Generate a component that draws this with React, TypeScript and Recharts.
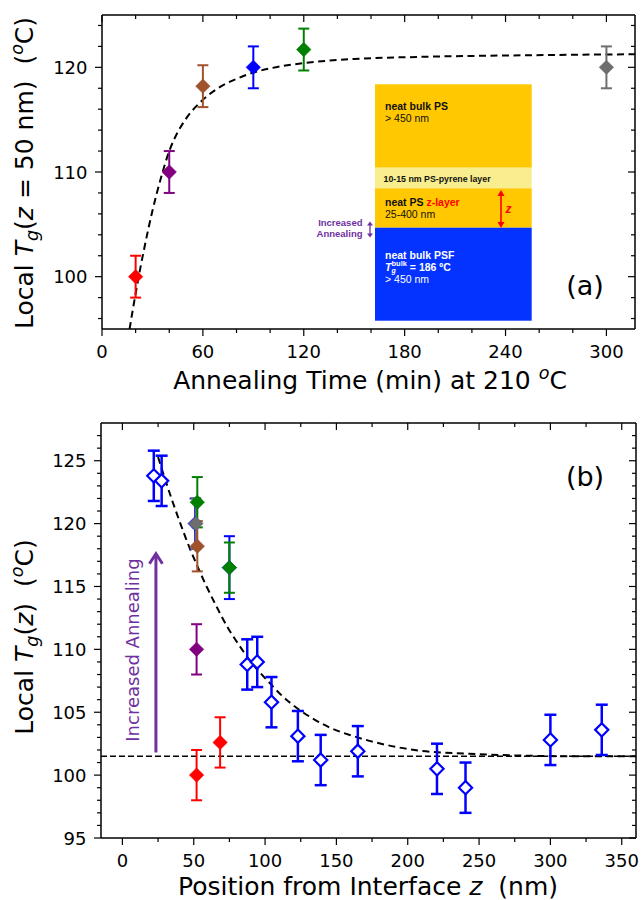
import React from 'react';
import { ComposedChart, Scatter, Line, XAxis, YAxis, ErrorBar, ReferenceLine } from 'recharts';

const FONT = '"DejaVu Sans", sans-serif';
const SANS = '"Liberation Sans", Arial, sans-serif';
const PURPLE = '#7030a0';

// ---------- Panel (a): Tg(z = 50 nm) vs annealing time ----------
const annealTimes = [20, 40, 60, 90, 120, 300];
const tgAt50 = [100, 110, 118.2, 120, 121.7, 120];
const tgAt50Err = [2, 2, 2, 2, 2, 2];
const annealColors = ['#ff0000', '#800080', '#a0522d', '#0000ff', '#008000', '#6e6e6e'];

const fitTimes = [16.4, 20, 25, 30, 35, 40, 45, 50, 60, 70, 80, 90, 100, 120, 150, 190, 250, 317];
const fitTgA = [95, 98.4, 102.6, 106.3, 109.4, 112.0, 113.8, 115.1, 116.9, 118.1, 118.9, 119.5, 119.9, 120.4, 120.8, 121.0, 121.15, 121.25];

const aXTicks = [0, 20, 40, 60, 80, 100, 120, 140, 160, 180, 200, 220, 240, 260, 280, 300];
const aXMajor = [0, 60, 120, 180, 240, 300];
const aYTicks = [96, 98, 100, 102, 104, 106, 108, 110, 112, 114, 116, 118, 120, 122, 124];
const aYMajor = [100, 110, 120];

// ---------- Panel (b): Tg profile vs distance from interface ----------
const profileZ = [22, 27.5, 87.5, 94.5, 104.5, 123, 139, 165, 220.5, 240.5, 300, 336];
const profileTg = [123.8, 123.4, 108.8, 109.0, 105.8, 103.1, 101.2, 101.9, 100.5, 99.0, 102.8, 103.6];
const profileErr = [2, 2, 2, 2, 2, 2, 2, 2, 2, 2, 2, 2];

const redZ = [52, 68.5];
const redTg = [100, 102.6];
const purpleZ = [52];
const purpleTg = [110];
const blueZ = [51, 75];
const blueTg = [120, 116.5];
const blueErr = [2, 2.5];
const grayZ = [51.5];
const grayTg = [120];
const brownZ = [52.5];
const brownTg = [118.2];
const greenZ = [52.5, 75];
const greenTg = [121.7, 116.5];

const fitZ = [25, 30, 35, 40, 47, 53, 59, 66, 74, 82, 90, 101, 112, 124, 135, 145, 162, 185, 208, 243, 280, 320, 360];
const fitTgB = [125.3, 123.5, 121.8, 120.2, 118.1, 116.5, 115.0, 113.4, 111.7, 110.3, 109.0, 107.6, 106.3, 105.2, 104.4, 103.8, 103.1, 102.4, 101.95, 101.7, 101.55, 101.5, 101.5];
const bulkTg = 101.5;

const bXTicks = [0, 25, 50, 75, 100, 125, 150, 175, 200, 225, 250, 275, 300, 325, 350];
const bXMajor = [0, 50, 100, 150, 200, 250, 300, 350];
const bYTicks = Array.from({ length: 33 }, (_, i) => 95 + i);
const bYMajor = [95, 100, 105, 110, 115, 120, 125];

type Pt = { x: number; y: number; e?: number };
const pts = (xs: number[], ys: number[], es?: number[]): Pt[] =>
  xs.map((x, i) => ({ x, y: ys[i], e: es ? es[i] : 2 }));

// ---------- chart geometry ----------
const GA = { top: 0, w: 641, h: 380, mt: 15, mr: 6, yw: 102, xh: 51, xd: [0, 317], yd: [95, 125] };
const GB = { top: 400, w: 641, h: 500, mt: 23, mr: 5, yw: 101, xh: 62, xd: [-15, 360], yd: [95, 128] };
const plotW = (g: typeof GA) => g.w - g.mr - g.yw;
const plotH = (g: typeof GA) => g.h - g.mt - g.xh;
const px = (g: typeof GA, v: number) => g.yw + ((v - g.xd[0]) / (g.xd[1] - g.xd[0])) * plotW(g);
const py = (g: typeof GA, v: number) => g.top + g.mt + ((g.yd[1] - v) / (g.yd[1] - g.yd[0])) * plotH(g);

const diamond = (color: string, open = false) => (props: any) => {
  const { cx, cy } = props;
  if (cx == null || cy == null) return <g />;
  const r = open ? 6.6 : 7.2;
  return (
    <polygon
      points={`${cx},${cy - r} ${cx + r},${cy} ${cx},${cy + r} ${cx - r},${cy}`}
      fill={open ? '#ffffff' : color}
      stroke={color}
      strokeWidth={open ? 2.2 : 0.6}
    />
  );
};

const makeYTick = (majors: number[], w: number) => (props: any) => {
  const { x, y, payload } = props;
  const v = payload.value;
  const major = majors.includes(v);
  const len = major ? 7 : 4;
  return (
    <g>
      <line x1={x - len} y1={y} x2={x} y2={y} stroke="#000" strokeWidth={1.2} />
      <line x1={x + w - len} y1={y} x2={x + w} y2={y} stroke="#000" strokeWidth={1.2} />
      {major && (
        <text x={x - 14.5} y={y} textAnchor="end" dominantBaseline="central" fontSize={18} fontFamily={FONT} fill="#000">
          {v}
        </text>
      )}
    </g>
  );
};

const makeXTick = (majors: number[], h: number) => (props: any) => {
  const { x, y, payload } = props;
  const v = payload.value;
  const major = majors.includes(v);
  const len = major ? 7 : 4;
  return (
    <g>
      <line x1={x} y1={y} x2={x} y2={y + len} stroke="#000" strokeWidth={1.2} />
      <line x1={x} y1={y - h} x2={x} y2={y - h + len} stroke="#000" strokeWidth={1.2} />
      {major && (
        <text x={x} y={y + 22.5} textAnchor="middle" dominantBaseline="central" fontSize={18} fontFamily={FONT} fill="#000">
          {v}
        </text>
      )}
    </g>
  );
};

const PanelA = () => (
  <ComposedChart width={GA.w} height={GA.h} margin={{ top: GA.mt, right: GA.mr, bottom: 0, left: 0 }}>
    <XAxis
      dataKey="x"
      type="number"
      domain={GA.xd}
      allowDataOverflow
      ticks={aXTicks}
      interval={0}
      height={GA.xh}
      tickSize={0}
      tickMargin={0}
      tickLine={false}
      axisLine={{ stroke: '#000', strokeWidth: 1.5 }}
      tick={makeXTick(aXMajor, plotH(GA))}
    />
    <YAxis
      dataKey="y"
      type="number"
      domain={GA.yd}
      allowDataOverflow
      ticks={aYTicks}
      interval={0}
      width={GA.yw}
      tickSize={0}
      tickMargin={0}
      tickLine={false}
      axisLine={{ stroke: '#000', strokeWidth: 1.5 }}
      tick={makeYTick(aYMajor, plotW(GA))}
    />
    <ReferenceLine y={GA.yd[1]} stroke="#000" strokeWidth={1.5} />
    <ReferenceLine x={GA.xd[1]} stroke="#000" strokeWidth={1.5} />
    <Line
      data={pts(fitTimes, fitTgA)}
      dataKey="y"
      type="monotone"
      dot={false}
      stroke="#000"
      strokeWidth={2}
      strokeDasharray="7 4.5"
      isAnimationActive={false}
    />
    {annealTimes.map((t, i) => (
      <Scatter
        key={t}
        data={pts([t], [tgAt50[i]], [tgAt50Err[i]])}
        dataKey="y"
        shape={diamond(annealColors[i])}
        isAnimationActive={false}
      >
        <ErrorBar dataKey="e" direction="y" width={5.5} strokeWidth={2} stroke={annealColors[i]} />
      </Scatter>
    ))}
  </ComposedChart>
);

const filledSeries: { xs: number[]; ys: number[]; es?: number[]; color: string }[] = [
  { xs: redZ, ys: redTg, color: '#ff0000' },
  { xs: purpleZ, ys: purpleTg, color: '#800080' },
  { xs: blueZ, ys: blueTg, es: blueErr, color: '#0000ff' },
  { xs: grayZ, ys: grayTg, color: '#6e6e6e' },
  { xs: brownZ, ys: brownTg, color: '#a0522d' },
  { xs: greenZ, ys: greenTg, color: '#008000' },
];

const PanelB = () => (
  <ComposedChart width={GB.w} height={GB.h} margin={{ top: GB.mt, right: GB.mr, bottom: 0, left: 0 }}>
    <XAxis
      dataKey="x"
      type="number"
      domain={GB.xd}
      allowDataOverflow
      ticks={bXTicks}
      interval={0}
      height={GB.xh}
      tickSize={0}
      tickMargin={0}
      tickLine={false}
      axisLine={{ stroke: '#000', strokeWidth: 1.5 }}
      tick={makeXTick(bXMajor, plotH(GB))}
    />
    <YAxis
      dataKey="y"
      type="number"
      domain={GB.yd}
      allowDataOverflow
      ticks={bYTicks}
      interval={0}
      width={GB.yw}
      tickSize={0}
      tickMargin={0}
      tickLine={false}
      axisLine={{ stroke: '#000', strokeWidth: 1.5 }}
      tick={makeYTick(bYMajor, plotW(GB))}
    />
    <ReferenceLine y={GB.yd[1]} stroke="#000" strokeWidth={1.5} />
    <ReferenceLine x={GB.xd[1]} stroke="#000" strokeWidth={1.5} />
    <ReferenceLine y={bulkTg} stroke="#000" strokeWidth={1.5} strokeDasharray="6 3" />
    <Line
      data={pts(fitZ, fitTgB)}
      dataKey="y"
      type="monotone"
      dot={false}
      stroke="#000"
      strokeWidth={2}
      strokeDasharray="7 4.5"
      isAnimationActive={false}
    />
    <Scatter data={pts(profileZ, profileTg, profileErr)} dataKey="y" shape={diamond('#0000ff', true)} isAnimationActive={false}>
      <ErrorBar dataKey="e" direction="y" width={6} strokeWidth={2.5} stroke="#0000ff" />
    </Scatter>
    {filledSeries.map((s, i) => (
      <Scatter key={i} data={pts(s.xs, s.ys, s.es)} dataKey="y" shape={diamond(s.color)} isAnimationActive={false}>
        <ErrorBar dataKey="e" direction="y" width={5.5} strokeWidth={2} stroke={s.color} />
      </Scatter>
    ))}
  </ComposedChart>
);

const DoubleArrow = ({ x, y1, y2, color, head, hw, sw }: any) => (
  <g>
    <line x1={x} y1={y1 + head - 1} x2={x} y2={y2 - head + 1} stroke={color} strokeWidth={sw} />
    <polygon points={`${x},${y1} ${x - hw},${y1 + head} ${x + hw},${y1 + head}`} fill={color} />
    <polygon points={`${x},${y2} ${x - hw},${y2 - head} ${x + hw},${y2 - head}`} fill={color} />
  </g>
);

const Overlay = () => {
  const arrowX = px(GB, 23.5);
  const arrowY0 = py(GB, 101.8);
  const arrowY1 = py(GB, 117.6);
  return (
    <svg width={641} height={900} style={{ position: 'absolute', left: 0, top: 0, pointerEvents: 'none' }}>
      {/* layer-stack sketch */}
      <g fontFamily={SANS}>
        <rect x={375} y={84.3} width={156.7} height={83.4} fill="#ffc800" />
        <rect x={375} y={167.7} width={156.7} height={20.6} fill="#f8ee8e" />
        <rect x={375} y={188.3} width={156.7} height={39.4} fill="#ffc800" />
        <rect x={375} y={227.7} width={156.7} height={93} fill="#0433ff" />
        <text x={385} y={110} fontSize={10.5} fontWeight="bold" fill="#111">neat bulk PS</text>
        <text x={385} y={122} fontSize={10.5} fill="#111">{'> 450 nm'}</text>
        <text x={383.5} y={181.5} fontSize={8.8} fontWeight="bold" fill="#111">10-15 nm PS-pyrene layer</text>
        <text x={385} y={206} fontSize={10.5} fontWeight="bold" fill="#111">
          {'neat PS '}
          <tspan fill="#ff0000">z-layer</tspan>
        </text>
        <text x={385} y={218} fontSize={10.5} fill="#111">25-400 nm</text>
        <DoubleArrow x={501} y1={190} y2={228} color="#ff0000" head={6} hw={3.5} sw={1.6} />
        <text x={505.5} y={212.5} fontSize={12} fontWeight="bold" fontStyle="italic" fill="#ff0000">z</text>
        <text x={385} y={258.5} fontSize={10.5} fontWeight="bold" fill="#ffffff">neat bulk PSF</text>
        <text x={385} y={270.5} fontSize={10.5} fontWeight="bold" fill="#ffffff">
          <tspan fontStyle="italic">T</tspan>
          <tspan fontSize={7} dy={2.5} fontStyle="italic">g</tspan>
          <tspan fontSize={7.5} dy={-7} dx={-4.2}>bulk</tspan>
          <tspan dy={4.5}>{' = 186 ºC'}</tspan>
        </text>
        <text x={385} y={282.5} fontSize={10.5} fill="#ffffff">{'> 450 nm'}</text>
        <text x={362.5} y={226} fontSize={9.5} fontWeight="bold" fill={PURPLE} textAnchor="end">Increased</text>
        <text x={362.5} y={237} fontSize={9.5} fontWeight="bold" fill={PURPLE} textAnchor="end">Annealing</text>
        <DoubleArrow x={370} y1={221.5} y2={237.5} color={PURPLE} head={4} hw={3} sw={1.3} />
      </g>

      <g fontFamily={FONT} fill="#000">
        <text x={585} y={295} fontSize={27} textAnchor="middle">(a)</text>
        <text x={585} y={485.5} fontSize={27} textAnchor="middle">(b)</text>

        <text x={370} y={388.5} fontSize={25} textAnchor="middle" style={{ whiteSpace: 'pre' }}>
          {'Annealing Time (min) at 210 '}
          <tspan fontStyle="italic" fontSize={17.5} dy={-10}>o</tspan>
          <tspan dy={10}>C</tspan>
        </text>
        <text x={368} y={895} fontSize={25} textAnchor="middle" style={{ whiteSpace: 'pre' }}>
          {'Position from Interface '}
          <tspan fontStyle="italic">z</tspan>
          <tspan>{'  (nm)'}</tspan>
        </text>

        <text transform="translate(33,173) rotate(-90)" fontSize={25} textAnchor="middle" style={{ whiteSpace: 'pre' }}>
          {'Local '}
          <tspan fontStyle="italic">T</tspan>
          <tspan fontStyle="italic" fontSize={17.5} dy={5}>g</tspan>
          <tspan dy={-5}>(</tspan>
          <tspan fontStyle="italic">z</tspan>
          <tspan>{' = 50 nm)  ('}</tspan>
          <tspan fontStyle="italic" fontSize={17.5} dy={-10}>o</tspan>
          <tspan dy={10}>C)</tspan>
        </text>
        <text transform="translate(33,637) rotate(-90)" fontSize={25} textAnchor="middle" style={{ whiteSpace: 'pre' }}>
          {'Local '}
          <tspan fontStyle="italic">T</tspan>
          <tspan fontStyle="italic" fontSize={17.5} dy={5}>g</tspan>
          <tspan dy={-5}>(</tspan>
          <tspan fontStyle="italic">z</tspan>
          <tspan>{')  ('}</tspan>
          <tspan fontStyle="italic" fontSize={17.5} dy={-10}>o</tspan>
          <tspan dy={10}>C)</tspan>
        </text>
      </g>

      {/* increased-annealing arrow in panel (b) */}
      <line x1={arrowX} y1={arrowY0} x2={arrowX} y2={arrowY1 + 1} stroke={PURPLE} strokeWidth={3} />
      <polyline
        points={`${arrowX - 6.5},${arrowY1 + 10} ${arrowX},${arrowY1} ${arrowX + 6.5},${arrowY1 + 10}`}
        fill="none"
        stroke={PURPLE}
        strokeWidth={3}
      />
      <text
        transform={`translate(139,650) rotate(-90)`}
        fontSize={18}
        fontFamily={FONT}
        fill={PURPLE}
        textAnchor="middle"
      >
        Increased Annealing
      </text>
    </svg>
  );
}

export default function App() {
  return (
    <div style={{ position: 'absolute', left: 0, top: 0, width: 641, height: 900, background: '#fff', fontFamily: FONT }}>
      <div style={{ position: 'absolute', left: 0, top: GA.top }}>
        <PanelA />
      </div>
      <div style={{ position: 'absolute', left: 0, top: GB.top }}>
        <PanelB />
      </div>
      <Overlay />
    </div>
  );
}
